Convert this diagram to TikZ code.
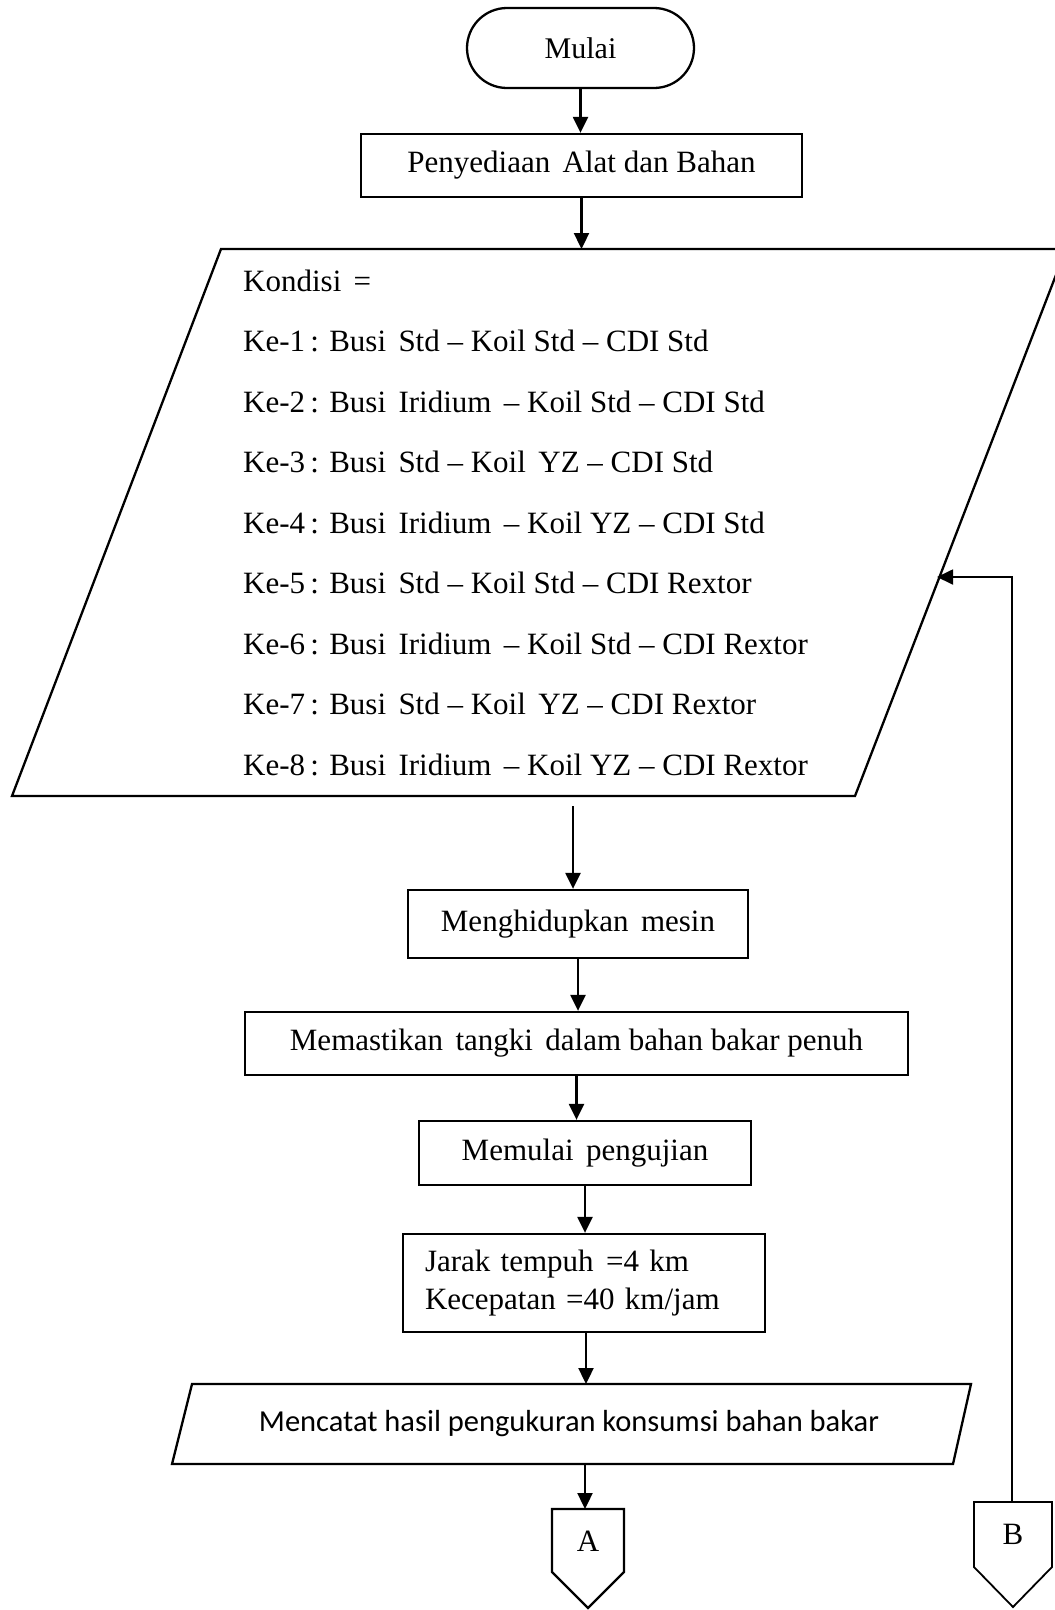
\documentclass[tikz,border=0pt]{standalone}
\usepackage{fontspec}
\setmainfont{Liberation Serif}
\newfontfamily\calfont{Carlito}
\usetikzlibrary{arrows.meta,shapes.misc}
\newcommand\ds{\hspace{0.4em}}
\begin{document}
\begin{tikzpicture}[x=1pt,y=-1pt,
  every node/.style={font=\fontsize{31}{38}\selectfont},
  box/.style={draw, line width=2.3pt, inner sep=0pt},
  outl/.style={line width=2.3pt},
  arr/.style={line width=2.3pt, -{Triangle[width=15pt,length=16pt]}},
  thinl/.style={line width=1.8pt}]
\useasboundingbox (0,0) rectangle (1055,1610);
\fill[white] (0,0) rectangle (1055,1610);

% start
\node[box, rounded rectangle, minimum width=227pt, minimum height=80pt, font=\fontsize{30}{36}\selectfont] (mulai) at (580.5,48) {Mulai};
\node[box, minimum width=441pt, minimum height=63pt] (peny) at (581.5,165.5) {Penyediaan\ds Alat dan Bahan};

% input parallelogram
\begin{scope}
\clip (0,0) rectangle (1055,1610);
\draw[outl] (221,249) -- (1066,249) -- (855,796) -- (12,796) -- cycle;
\end{scope}
\coordinate (ptop) at (581.5,249);
\coordinate (pbot) at (573,806);
\coordinate (pin) at (937,577);
\foreach \t [count=\i from 0] in {%
  Kondisi\ds =,
  Ke-1\,: Busi\ds Std -- Koil Std -- CDI Std,
  Ke-2\,: Busi\ds Iridium\ds -- Koil Std -- CDI Std,
  Ke-3\,: Busi\ds Std -- Koil\ds YZ -- CDI Std,
  Ke-4\,: Busi\ds Iridium\ds -- Koil YZ -- CDI Std,
  Ke-5\,: Busi\ds Std -- Koil Std -- CDI Rextor,
  Ke-6\,: Busi\ds Iridium\ds -- Koil Std -- CDI Rextor,
  Ke-7\,: Busi\ds Std -- Koil\ds YZ -- CDI Rextor,
  Ke-8\,: Busi\ds Iridium\ds -- Koil YZ -- CDI Rextor}
  \node[anchor=base west, inner sep=0pt] (k\i) at (243,{291+60.5*\i}) {\t};

% process boxes
\node[box, minimum width=340pt, minimum height=68pt] (mesin) at (578,924) {Menghidupkan\ds mesin};
\node[box, minimum width=663pt, minimum height=63pt] (mast) at (576.5,1043.5) {Memastikan\ds tangki\ds dalam bahan bakar penuh};
\node[box, minimum width=332pt, minimum height=64pt] (uji) at (585,1153) {Memulai\ds pengujian};
\node[box, minimum width=362pt, minimum height=98pt, align=left, text width=318pt, inner xsep=22pt] (jarak) at (584,1283) {Jarak tempuh\ds =4 km\\Kecepatan =40 km/jam};

% output parallelogram
\draw[outl] (192,1384) -- (971,1384) -- (953,1464) -- (172,1464) -- cycle;
\node[font=\calfont\fontsize{30.5}{36}\selectfont] (catat) at (569,1424) {Mencatat hasil pengukuran konsumsi bahan bakar};
\coordinate (ctop) at (586,1384);
\coordinate (cbot) at (585,1464);

% off-page connectors
\draw[outl] (552,1509) -- (624,1509) -- (624,1572) -- (588,1608) -- (552,1572) -- cycle;
\node (A) at (588,1541) {A};
\coordinate (atop) at (585,1509);
\draw[thinl] (974,1502) -- (1052,1502) -- (1052,1567) -- (1013,1607) -- (974,1567) -- cycle;
\node (B) at (1013,1534) {B};
\coordinate (btop) at (1012,1502);

% connectors
\draw[arr] (mulai.south) -- (mulai.south |- peny.north);
\draw[arr] (peny.south) -- (peny.south |- ptop);
\draw[arr] (pbot) -- (pbot |- mesin.north);
\draw[arr] (mesin.south) -- (mesin.south |- mast.north);
\draw[arr] (mast.south) -- (mast.south |- uji.north);
\draw[arr] (uji.south) -- (uji.south |- jarak.north);
\draw[arr] (ctop |- jarak.south) -- (ctop);
\draw[arr] (cbot) -- (atop);
\draw[thinl, -{Triangle[width=15pt,length=16pt]}] (btop) |- (pin);
\end{tikzpicture}
\end{document}
